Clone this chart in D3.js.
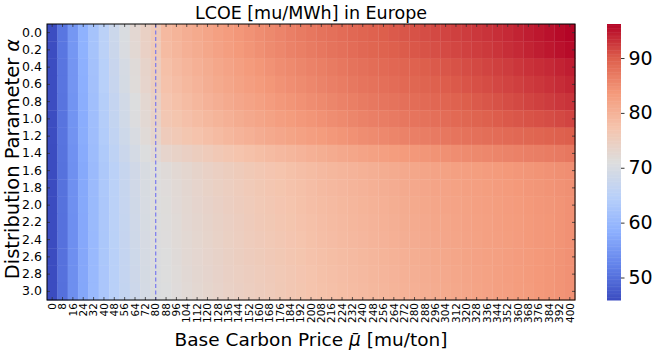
<!DOCTYPE html>
<html lang="en">
<head>
<meta charset="UTF-8">
<title>LCOE [mu/MWh] in Europe</title>
<script src="https://d3js.org/d3.v7.min.js"></script>
<style>
  body { margin: 0; background: #fff; }
  svg { display: block; font-family: "DejaVu Sans", sans-serif; }
</style>
</head>
<body>
<div id="chart"></div>
<script>
// Base carbon price (columns) and distribution parameter (rows)
const prices = [0, 8, 16, 24, 32, 40, 48, 56, 64, 72, 80, 88, 96, 104, 112, 120, 128, 136, 144, 152,
  160, 168, 176, 184, 192, 200, 208, 216, 224, 232, 240, 248, 256, 264, 272, 280, 288, 296, 304, 312,
  320, 328, 336, 344, 352, 360, 368, 376, 384, 392, 400];
const alphas = [0.0, 0.2, 0.4, 0.6, 0.8, 1.0, 1.2, 1.4, 1.6, 1.8, 2.0, 2.2, 2.4, 2.6, 2.8, 3.0];

// LCOE [mu/MWh], one row per alpha, one value per price
const lcoe = [
  [46.0, 50.8, 55.0, 58.8, 62.2, 65.3, 68.0, 70.4, 72.5, 74.3, 75.8, 79.0, 79.8, 80.6, 81.3, 82.0, 82.7, 83.3, 83.9, 84.5, 85.0, 85.5, 86.0, 86.5, 87.0, 87.4, 87.8, 88.2, 88.6, 89.0, 89.4, 89.7, 90.0, 90.3, 90.6, 90.9, 91.2, 91.5, 91.8, 92.1, 92.4, 92.7, 93.0, 93.3, 93.7, 94.1, 94.5, 94.9, 95.3, 95.8, 96.2],
  [46.0, 50.8, 55.0, 58.8, 62.2, 65.2, 67.9, 70.3, 72.4, 74.2, 75.7, 78.7, 79.5, 80.3, 81.0, 81.7, 82.4, 83.0, 83.6, 84.2, 84.7, 85.2, 85.7, 86.2, 86.6, 87.0, 87.4, 87.8, 88.2, 88.6, 89.0, 89.3, 89.6, 89.9, 90.2, 90.5, 90.8, 91.1, 91.4, 91.7, 92.0, 92.3, 92.6, 92.9, 93.3, 93.7, 94.1, 94.5, 94.9, 95.3, 95.7],
  [46.0, 50.7, 54.8, 58.5, 61.8, 64.8, 67.4, 69.7, 71.7, 73.5, 75.0, 78.0, 78.8, 79.6, 80.3, 81.0, 81.7, 82.3, 82.9, 83.5, 84.0, 84.5, 85.0, 85.4, 85.8, 86.2, 86.6, 87.0, 87.4, 87.8, 88.2, 88.5, 88.8, 89.1, 89.4, 89.7, 90.0, 90.3, 90.6, 90.9, 91.2, 91.5, 91.8, 92.1, 92.4, 92.8, 93.1, 93.4, 93.7, 94.1, 94.5],
  [46.0, 50.7, 54.8, 58.4, 61.7, 64.7, 67.3, 69.6, 71.6, 73.3, 74.8, 77.6, 78.4, 79.2, 79.9, 80.6, 81.3, 81.9, 82.5, 83.0, 83.5, 84.0, 84.5, 84.9, 85.3, 85.7, 86.1, 86.5, 86.9, 87.3, 87.7, 88.0, 88.3, 88.6, 88.9, 89.2, 89.5, 89.8, 90.1, 90.4, 90.7, 91.0, 91.3, 91.6, 91.9, 92.2, 92.5, 92.8, 93.1, 93.5, 93.9],
  [46.0, 50.6, 54.6, 58.2, 61.4, 64.3, 66.8, 69.0, 70.9, 72.6, 74.0, 77.0, 77.8, 78.6, 79.3, 80.0, 80.6, 81.2, 81.8, 82.3, 82.8, 83.3, 83.8, 84.2, 84.6, 85.0, 85.4, 85.8, 86.2, 86.6, 87.0, 87.3, 87.6, 87.9, 88.2, 88.5, 88.8, 89.1, 89.4, 89.7, 90.0, 90.3, 90.6, 90.9, 91.2, 91.5, 91.8, 92.1, 92.4, 92.7, 93.0],
  [46.0, 50.6, 54.6, 58.1, 61.3, 64.2, 66.7, 68.9, 70.8, 72.4, 73.8, 76.5, 77.2, 77.9, 78.6, 79.2, 79.8, 80.4, 81.0, 81.5, 82.0, 82.5, 83.0, 83.4, 83.8, 84.2, 84.6, 85.0, 85.4, 85.8, 86.2, 86.5, 86.8, 87.1, 87.4, 87.7, 88.0, 88.3, 88.6, 88.9, 89.2, 89.5, 89.8, 90.1, 90.4, 90.6, 90.8, 91.0, 91.2, 91.5, 91.8],
  [46.0, 50.5, 54.5, 58.0, 61.1, 63.9, 66.3, 68.4, 70.2, 71.8, 73.1, 75.5, 76.2, 76.9, 77.5, 78.1, 78.7, 79.3, 79.9, 80.4, 80.9, 81.4, 81.8, 82.2, 82.6, 83.0, 83.4, 83.8, 84.2, 84.6, 85.0, 85.3, 85.6, 85.9, 86.2, 86.5, 86.8, 87.1, 87.4, 87.7, 88.0, 88.2, 88.4, 88.6, 88.8, 89.0, 89.2, 89.4, 89.6, 89.8, 90.0],
  [45.9, 50.4, 54.3, 57.8, 60.8, 63.5, 65.8, 67.8, 69.5, 70.9, 72.0, 73.3, 73.9, 74.5, 75.1, 75.7, 76.3, 76.8, 77.3, 77.8, 78.3, 78.7, 79.1, 79.5, 79.9, 80.3, 80.7, 81.1, 81.5, 81.9, 82.3, 82.6, 82.9, 83.2, 83.5, 83.8, 84.1, 84.4, 84.7, 85.0, 85.3, 85.5, 85.7, 85.9, 86.1, 86.3, 86.5, 86.7, 86.9, 87.1, 87.4],
  [45.9, 50.3, 54.1, 57.5, 60.5, 63.1, 65.3, 67.2, 68.8, 70.1, 71.1, 71.7, 72.3, 72.9, 73.5, 74.1, 74.6, 75.1, 75.6, 76.1, 76.6, 77.0, 77.4, 77.8, 78.2, 78.6, 79.0, 79.3, 79.6, 79.9, 80.2, 80.5, 80.8, 81.1, 81.4, 81.7, 82.0, 82.3, 82.5, 82.7, 82.9, 83.1, 83.3, 83.5, 83.7, 83.9, 84.1, 84.3, 84.5, 84.7, 84.9],
  [45.9, 50.3, 54.1, 57.5, 60.5, 63.1, 65.3, 67.2, 68.8, 70.1, 71.1, 71.5, 72.1, 72.7, 73.3, 73.9, 74.4, 74.9, 75.4, 75.9, 76.4, 76.8, 77.2, 77.6, 78.0, 78.4, 78.8, 79.1, 79.4, 79.7, 80.0, 80.3, 80.6, 80.9, 81.2, 81.5, 81.8, 82.1, 82.3, 82.5, 82.7, 82.9, 83.1, 83.3, 83.5, 83.7, 83.9, 84.1, 84.3, 84.5, 84.7],
  [45.9, 50.3, 54.1, 57.5, 60.4, 63.0, 65.2, 67.1, 68.7, 70.0, 71.0, 71.4, 72.0, 72.6, 73.2, 73.7, 74.2, 74.7, 75.2, 75.7, 76.2, 76.6, 77.0, 77.4, 77.8, 78.2, 78.6, 78.9, 79.2, 79.5, 79.8, 80.1, 80.4, 80.7, 81.0, 81.3, 81.6, 81.9, 82.1, 82.3, 82.5, 82.7, 82.9, 83.1, 83.3, 83.5, 83.7, 83.9, 84.1, 84.3, 84.6],
  [45.9, 50.2, 54.0, 57.4, 60.4, 63.0, 65.2, 67.0, 68.6, 69.9, 70.9, 71.3, 71.9, 72.5, 73.0, 73.5, 74.0, 74.5, 75.0, 75.5, 76.0, 76.4, 76.8, 77.2, 77.6, 78.0, 78.4, 78.7, 79.0, 79.3, 79.6, 79.9, 80.2, 80.5, 80.8, 81.1, 81.4, 81.7, 81.9, 82.1, 82.4, 82.6, 82.8, 83.0, 83.2, 83.4, 83.6, 83.8, 84.0, 84.3, 84.6],
  [45.9, 50.2, 54.0, 57.4, 60.3, 62.9, 65.1, 66.9, 68.5, 69.8, 70.8, 71.2, 71.8, 72.4, 72.9, 73.4, 73.9, 74.4, 74.9, 75.4, 75.8, 76.2, 76.6, 77.0, 77.4, 77.8, 78.2, 78.5, 78.8, 79.1, 79.4, 79.7, 80.0, 80.3, 80.6, 80.9, 81.2, 81.5, 81.8, 82.0, 82.3, 82.5, 82.7, 82.9, 83.1, 83.3, 83.6, 83.8, 84.0, 84.3, 84.6],
  [45.9, 50.2, 54.0, 57.3, 60.3, 62.9, 65.0, 66.8, 68.4, 69.7, 70.7, 71.1, 71.7, 72.3, 72.8, 73.3, 73.8, 74.3, 74.8, 75.2, 75.6, 76.0, 76.4, 76.8, 77.2, 77.6, 78.0, 78.3, 78.6, 78.9, 79.2, 79.5, 79.8, 80.1, 80.4, 80.7, 81.0, 81.3, 81.6, 81.9, 82.2, 82.4, 82.6, 82.8, 83.0, 83.3, 83.5, 83.7, 84.0, 84.3, 84.6],
  [45.9, 50.2, 53.9, 57.3, 60.2, 62.8, 65.0, 66.8, 68.3, 69.6, 70.6, 71.0, 71.6, 72.2, 72.7, 73.2, 73.7, 74.2, 74.6, 75.0, 75.4, 75.8, 76.2, 76.6, 77.0, 77.4, 77.8, 78.1, 78.4, 78.7, 79.0, 79.3, 79.6, 79.9, 80.2, 80.5, 80.8, 81.1, 81.4, 81.7, 82.0, 82.3, 82.5, 82.7, 83.0, 83.2, 83.5, 83.7, 84.0, 84.3, 84.6],
  [45.9, 50.1, 53.9, 57.2, 60.2, 62.8, 64.9, 66.7, 68.2, 69.5, 70.5, 70.9, 71.5, 72.1, 72.6, 73.1, 73.6, 74.1, 74.5, 74.9, 75.3, 75.7, 76.1, 76.5, 76.9, 77.3, 77.7, 78.0, 78.3, 78.6, 78.9, 79.2, 79.5, 79.8, 80.1, 80.4, 80.7, 81.0, 81.3, 81.6, 81.9, 82.2, 82.4, 82.7, 82.9, 83.2, 83.4, 83.7, 84.0, 84.3, 84.6]
];

const markedPrice = 80;            // dashed reference line
const colorTicks = [50, 60, 70, 80, 90];

// coolwarm colormap stops
const coolwarm = ["#3b4cc0", "#6282ea", "#8db0fe", "#b8d0f9", "#dddddd",
                  "#f5c4ad", "#f49a7b", "#de604d", "#b40426"];

const width = 656, height = 353;
const plot = {x0: 47, x1: 575, y0: 24, y1: 300};
const cbar = {x0: 607, x1: 621};

const svg = d3.create("svg")
  .attr("width", width)
  .attr("height", height)
  .attr("viewBox", [0, 0, width, height]);

const x = d3.scaleBand().domain(prices).range([plot.x0, plot.x1]);
const y = d3.scaleBand().domain(alphas).range([plot.y0, plot.y1]);

const [vmin, vmax] = d3.extent(lcoe.flat());
const color = d3.scaleLinear()
  .domain(coolwarm.map((_, i) => vmin + (vmax - vmin) * i / (coolwarm.length - 1)))
  .range(coolwarm)
  .interpolate(d3.interpolateRgb)
  .clamp(true);

// Heatmap cells
const cells = [];
lcoe.forEach((row, i) => row.forEach((v, j) => cells.push({a: alphas[i], p: prices[j], v})));

svg.append("g")
  .selectAll("rect")
  .data(cells)
  .join("rect")
  .attr("x", d => x(d.p))
  .attr("y", d => y(d.a))
  .attr("width", x.bandwidth() + 0.4)
  .attr("height", y.bandwidth() + 0.4)
  .attr("fill", d => color(d.v));

// faint seams between cells
svg.append("g")
  .attr("stroke", "#fff")
  .attr("stroke-opacity", 0.08)
  .attr("stroke-width", 0.6)
  .selectAll("line")
  .data(prices.slice(1))
  .join("line")
  .attr("x1", d => x(d)).attr("x2", d => x(d))
  .attr("y1", plot.y0).attr("y2", plot.y1);

// Dashed reference line
svg.append("line")
  .attr("x1", x(markedPrice) + x.bandwidth() / 2)
  .attr("x2", x(markedPrice) + x.bandwidth() / 2)
  .attr("y1", plot.y0).attr("y2", plot.y1)
  .attr("stroke", "#6f6ff0")
  .attr("stroke-opacity", 0.9)
  .attr("stroke-width", 1.2)
  .attr("stroke-dasharray", "4,2.5");

// Axes (ticks pointing inward)
const fmt = d3.format(".1f");

svg.append("g")
  .attr("transform", `translate(${plot.x0},0)`)
  .call(d3.axisRight(y).tickSize(3).tickFormat(""))
  .call(g => g.select(".domain").remove());

svg.append("g")
  .attr("transform", `translate(${plot.x1},0)`)
  .call(d3.axisLeft(y).tickSize(3).tickFormat(""))
  .call(g => g.select(".domain").remove());

svg.append("g")
  .attr("transform", `translate(0,${plot.y0})`)
  .call(d3.axisBottom(x).tickSize(3).tickFormat(""))
  .call(g => g.select(".domain").remove());

svg.append("g")
  .attr("transform", `translate(0,${plot.y1})`)
  .call(d3.axisTop(x).tickSize(3).tickFormat(""))
  .call(g => g.select(".domain").remove());

// Tick labels
svg.append("g")
  .attr("transform", `translate(${plot.x0},0)`)
  .call(d3.axisLeft(y).tickSize(0).tickPadding(5).tickFormat(fmt))
  .call(g => g.select(".domain").remove())
  .call(g => g.selectAll("text")
    .attr("font-family", "DejaVu Sans")
    .attr("font-size", 12.5)
    .attr("fill", "#000"));

svg.append("g")
  .attr("transform", `translate(0,${plot.y1})`)
  .call(d3.axisBottom(x).tickSize(0).tickFormat(d => d))
  .call(g => g.select(".domain").remove())
  .call(g => g.selectAll("text")
    .attr("font-family", "DejaVu Sans")
    .attr("font-size", 10.5)
    .attr("fill", "#000")
    .attr("text-anchor", "end")
    .attr("transform", "rotate(-90)")
    .attr("x", -3)
    .attr("y", 0)
    .attr("dy", "0.35em"));

svg.append("rect")
  .attr("x", plot.x0).attr("y", plot.y0)
  .attr("width", plot.x1 - plot.x0).attr("height", plot.y1 - plot.y0)
  .attr("fill", "none")
  .attr("stroke", "#000")
  .attr("stroke-width", 1);

svg.selectAll(".tick line").attr("stroke", "#333").attr("stroke-width", 0.8);

// Title and axis labels
svg.append("text")
  .attr("x", (plot.x0 + plot.x1) / 2)
  .attr("y", 19)
  .attr("text-anchor", "middle")
  .attr("font-size", 17.5)
  .text("LCOE [mu/MWh] in Europe");

const xl = svg.append("text")
  .attr("x", (plot.x0 + plot.x1) / 2)
  .attr("y", 346)
  .attr("text-anchor", "middle")
  .attr("font-size", 18.5);
xl.append("tspan").text("Base Carbon Price ");
xl.append("tspan").attr("font-style", "italic").text("\u03BC\u0304");
xl.append("tspan").text(" [mu/ton]");

const yl = svg.append("text")
  .attr("transform", `translate(19,${(plot.y0 + plot.y1) / 2 - 3}) rotate(-90)`)
  .attr("text-anchor", "middle")
  .attr("font-size", 19.5);
yl.append("tspan").text("Distribution Parameter ");
yl.append("tspan").attr("font-style", "italic").text("\u03B1");

// Colorbar
const cy = d3.scaleLinear().domain([vmin, vmax]).range([plot.y1, plot.y0]);
const steps = d3.range(0, 200);
svg.append("g")
  .selectAll("rect")
  .data(steps)
  .join("rect")
  .attr("x", cbar.x0)
  .attr("width", cbar.x1 - cbar.x0)
  .attr("y", i => cy(vmin + (vmax - vmin) * (i + 1) / steps.length))
  .attr("height", (plot.y1 - plot.y0) / steps.length + 0.5)
  .attr("fill", i => color(vmin + (vmax - vmin) * (i + 0.5) / steps.length));

svg.append("g")
  .attr("transform", `translate(${cbar.x1},0)`)
  .call(d3.axisRight(cy).tickValues(colorTicks).tickSize(3.5).tickPadding(4))
  .call(g => g.select(".domain").remove())
  .call(g => g.selectAll(".tick line").attr("stroke", "#333"))
  .call(g => g.selectAll("text")
    .attr("font-family", "DejaVu Sans")
    .attr("font-size", 19)
    .attr("fill", "#000"));

document.getElementById("chart").appendChild(svg.node());
</script>
</body>
</html>
